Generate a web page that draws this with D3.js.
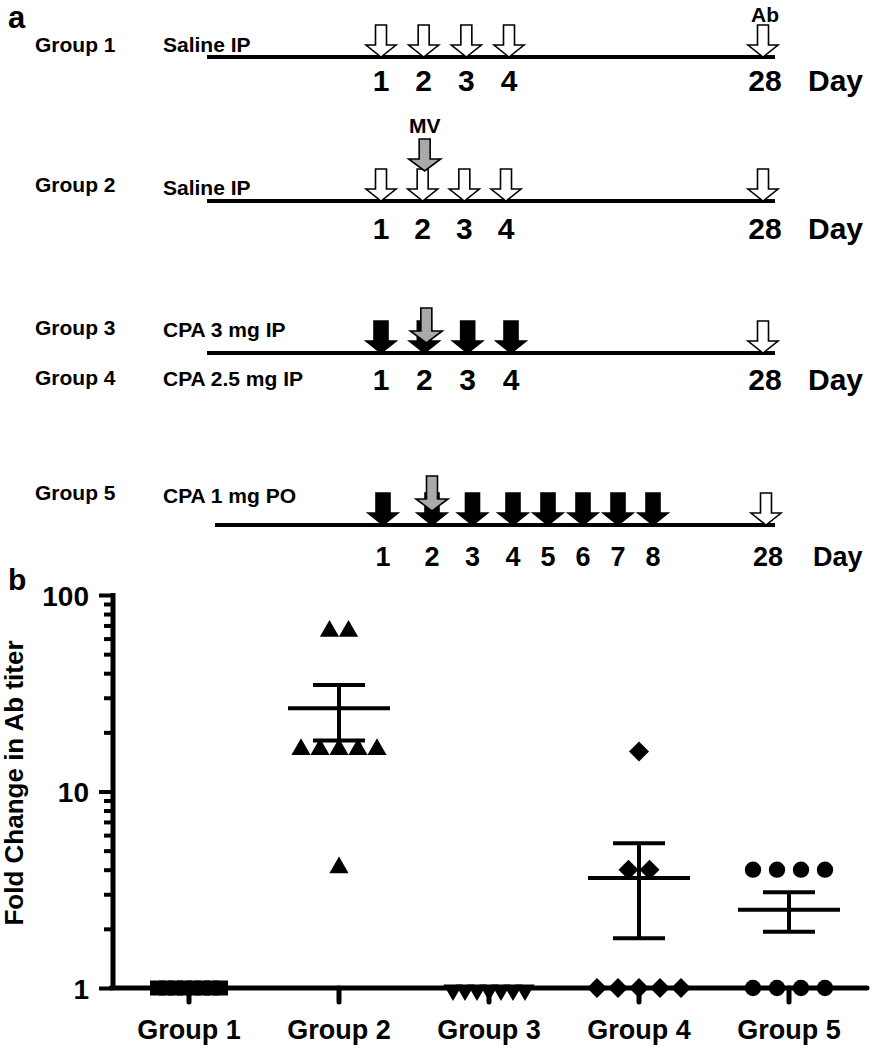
<!DOCTYPE html>
<html><head><meta charset="utf-8">
<script src="https://cdn.jsdelivr.net/npm/d3@7"></script>
<style>
body{margin:0;background:#fff;}
text{font-family:"Liberation Sans",Arial,sans-serif;font-weight:bold;fill:#000;}
</style></head>
<body><svg id="c" width="874" height="1050"></svg>
<script>
// ---------- data: panel a (schedule) ----------
const rowGroups = ["Group 1", "Group 2", "Group 3", "Group 5"];
const rowExtraGroups = ["", "", "Group 4", ""];
const rowTreatments = ["Saline IP", "Saline IP", "CPA 3 mg IP", "CPA 1 mg PO"];
const rowExtraTreatments = ["", "", "CPA 2.5 mg IP", ""];
const rowDoseDays = [[1,2,3,4],[1,2,3,4],[1,2,3,4],[1,2,3,4,5,6,7,8]];
const rowDoseKind = ["saline","saline","cpa","cpa"];
const rowHasMV = [false, true, true, true];
const mvDay = 2;
const abDay = 28;
const dayLabel = "Day";

// ---------- data: panel b (dot plot) ----------
const groups = ["Group 1", "Group 2", "Group 3", "Group 4", "Group 5"];
const group1Values = [1,1,1,1,1,1,1,1];
const group2Values = [64,64,16,16,16,16,16,4];
const group3Values = [1,1,1,1,1,1,1];
const group4Values = [16,4,4,1,1,1,1,1];
const group5Values = [4,4,4,4,1,1,1,1];
const yMajorTicks = [1, 10, 100];
const yAxisTitle = "Fold Change in Ab titer";

const svg = d3.select("#c");

// ================= PANEL A =================
svg.append("text").attr("x", 8).attr("y", 28).style("font-size", "31px").text("a");

const rowLineY = [57, 201, 353, 525];
const rowStyle = [
  {x0: 207, x1: 775, xs: [1,4,28], xr: [381,509,763], gy: 52, ty: 52, ly2: 0, dy: 91, mvTip: 0},
  {x0: 207, x1: 775, xs: [1,4,28], xr: [381,506,763], gy: 192, ty: 195, ly2: 0, dy: 239, mvTip: 171},
  {x0: 207, x1: 775, xs: [1,4,28], xr: [381,511,763], gy: 335, ty: 337, ly2: 385, dy: 390, mvTip: 343},
  {x0: 215, x1: 775, xs: [1,2,4,8,28], xr: [383,432,513,653,766], gy: 500, ty: 503, ly2: 0, dy: 566, mvTip: 511}
];

function arrowPath(cx, tipY, len, shaftW, headW, headH) {
  const top = tipY - len, hb = tipY - headH;
  return `M${cx - shaftW/2},${top}L${cx + shaftW/2},${top}L${cx + shaftW/2},${hb}` +
         `L${cx + headW/2},${hb}L${cx},${tipY}L${cx - headW/2},${hb}L${cx - shaftW/2},${hb}Z`;
}

rowGroups.forEach((g, i) => {
  const st = rowStyle[i];
  const x = d3.scaleLinear().domain(st.xs).range(st.xr);
  const ly = rowLineY[i];
  const row = svg.append("g");
  // labels
  row.append("text").attr("x", 35).attr("y", st.gy).style("font-size", "21px").text(g);
  row.append("text").attr("x", 163).attr("y", st.ty).style("font-size", "21px").text(rowTreatments[i]);
  if (rowExtraGroups[i]) {
    row.append("text").attr("x", 35).attr("y", st.ly2).style("font-size", "21px").text(rowExtraGroups[i]);
    row.append("text").attr("x", 163).attr("y", st.ly2 + 1).style("font-size", "21px").text(rowExtraTreatments[i]);
  }
  // timeline
  row.append("line").attr("x1", st.x0).attr("x2", st.x1).attr("y1", ly).attr("y2", ly)
    .attr("stroke", "#000").attr("stroke-width", 4);
  // dose arrows
  const black = rowDoseKind[i] === "cpa";
  row.selectAll("path.dose").data(rowDoseDays[i]).enter().append("path")
    .attr("d", d => arrowPath(x(d), ly, 32, black ? 14 : 11, 30, 12))
    .attr("fill", black ? "#000" : "#fff").attr("stroke", "#000").attr("stroke-width", 1.6);
  // Ab arrow
  row.append("path").attr("d", arrowPath(x(abDay), ly, 32, 11, 30, 12))
    .attr("fill", "#fff").attr("stroke", "#000").attr("stroke-width", 1.6);
  if (i === 0) {
    row.append("text").attr("x", x(abDay) + 2).attr("y", 22).attr("text-anchor", "middle")
      .style("font-size", "21px").text("Ab");
  }
  // MV arrow
  if (rowHasMV[i]) {
    const mx = x(mvDay) + (i === 3 ? 0 : 2);
    const tip = st.mvTip;
    const len = i === 1 ? 32 : 35;
    row.append("path").attr("d", arrowPath(mx, tip, len, 11, 32, 12))
      .attr("fill", "#a9a9a9").attr("stroke", "#000").attr("stroke-width", 1.6);
    if (i === 1) {
      row.append("text").attr("x", mx).attr("y", tip - 38).attr("text-anchor", "middle")
        .style("font-size", "21px").text("MV");
    }
  }
  // day labels
  const fs = i === 3 ? "27px" : "30px";
  row.selectAll("text.day").data(rowDoseDays[i].concat([abDay])).enter().append("text")
    .attr("class", "day").attr("x", d => x(d) + (d === abDay ? 2 : 0)).attr("y", st.dy)
    .attr("text-anchor", "middle").style("font-size", fs).text(d => d);
  row.append("text").attr("x", i === 3 ? 813 : 808).attr("y", st.dy).style("font-size", fs).text(dayLabel);
});

// ================= PANEL B =================
svg.append("text").attr("x", 8).attr("y", 590).style("font-size", "30px").text("b");

const xb = d3.scaleBand().domain(groups).range([114, 864]).padding(0);
const yb = d3.scaleLog().domain([1, 100]).range([988, 595]);

const allValues = [group1Values, group2Values, group3Values, group4Values, group5Values];
const symTypes = ["square", "triangle", "invtriangle", "diamond", "circle"];
const spacing = [9, 19, 12, 21, 24];

// y axis ticks (minor + major)
const yTicks = [];
[1, 10].forEach(d => { for (let k = 1; k < 10; k++) yTicks.push(d * k); });
yTicks.push(100);
const yAxis = d3.axisLeft(yb).tickValues(yTicks).tickSizeOuter(0)
  .tickFormat(d => yMajorTicks.includes(d) ? d : "");
const yg = svg.append("g").attr("transform", "translate(113,0)").call(yAxis);
yg.select(".domain").remove();
yg.selectAll(".tick line").attr("x2", d => yMajorTicks.includes(d) ? -14 : -9)
  .attr("stroke", "#000").attr("stroke-width", 4);
yg.selectAll(".tick text").attr("x", -24).attr("dy", "0.36em")
  .style("font-size", "28px").style("font-family", "'Liberation Sans',Arial,sans-serif")
  .style("font-weight", "bold");

// y axis line
svg.append("line").attr("x1", 113).attr("x2", 113).attr("y1", 593).attr("y2", 990)
  .attr("stroke", "#000").attr("stroke-width", 5);

// x axis labels
const xAxis = d3.axisBottom(xb).tickSize(0).tickPadding(0);
const xg = svg.append("g").attr("transform", "translate(0,988)").call(xAxis);
xg.select(".domain").remove();
xg.selectAll(".tick text").attr("y", 51).attr("dy", 0)
  .style("font-size", "27px").style("font-family", "'Liberation Sans',Arial,sans-serif")
  .style("font-weight", "bold");

// y title
svg.append("text").attr("transform", "translate(23,783) rotate(-90)")
  .attr("text-anchor", "middle").style("font-size", "26px").text(yAxisTitle);

// points
function symbolPath(t) {
  if (t === "square") return d3.symbol(d3.symbolSquare, 225)();
  if (t === "triangle" || t === "invtriangle") return d3.symbol(d3.symbolTriangle, 160)();
  if (t === "diamond") return d3.symbol(d3.symbolSquare, 200)();
  return d3.symbol(d3.symbolCircle, 210)();
}
function rotation(t) { return t === "invtriangle" ? 180 : (t === "diamond" ? 45 : 0); }

const stats = [];
allValues.forEach((vals, gi) => {
  const cx = xb(groups[gi]) + xb.bandwidth() / 2;
  const counts = d3.rollup(vals, v => v.length, v => v);
  const seen = new Map();
  const pts = vals.map(v => {
    const n = counts.get(v), k = seen.get(v) || 0; seen.set(v, k + 1);
    return {v, x: cx + (k - (n - 1) / 2) * spacing[gi]};
  });
  const t = symTypes[gi];
  const yOff = t === "triangle" ? -2 : (t === "invtriangle" ? 2 : 0);
  svg.append("g").selectAll("path").data(pts).enter().append("path")
    .attr("d", symbolPath(t))
    .attr("transform", d => `translate(${d.x},${yb(d.v) + yOff}) rotate(${rotation(t)})`)
    .attr("fill", "#000");
  const m = d3.mean(vals), sem = d3.deviation(vals) / Math.sqrt(vals.length);
  stats.push({cx, m, sem});
});

// x-axis line over points
svg.append("line").attr("x1", 111).attr("x2", 867).attr("y1", 988).attr("y2", 988)
  .attr("stroke", "#000").attr("stroke-width", 5).attr("stroke-linecap", "round");
// category ticks
svg.append("g").selectAll("line").data(groups).enter().append("line")
  .attr("x1", d => xb(d) + xb.bandwidth() / 2).attr("x2", d => xb(d) + xb.bandwidth() / 2)
  .attr("y1", 988).attr("y2", 1002).attr("stroke", "#000").attr("stroke-width", 5)
  .attr("stroke-linecap", "round");

// mean & SEM
const eb = svg.append("g").attr("stroke", "#000").attr("stroke-width", 4);
stats.forEach(s => {
  if (!s.sem) return;
  const lo = s.m - s.sem, hi = s.m + s.sem;
  eb.append("line").attr("x1", s.cx - 51).attr("x2", s.cx + 51).attr("y1", yb(s.m)).attr("y2", yb(s.m));
  eb.append("line").attr("x1", s.cx).attr("x2", s.cx).attr("y1", yb(lo)).attr("y2", yb(hi));
  eb.append("line").attr("x1", s.cx - 26).attr("x2", s.cx + 26).attr("y1", yb(hi)).attr("y2", yb(hi));
  eb.append("line").attr("x1", s.cx - 26).attr("x2", s.cx + 26).attr("y1", yb(lo)).attr("y2", yb(lo));
});
</script></body></html>
